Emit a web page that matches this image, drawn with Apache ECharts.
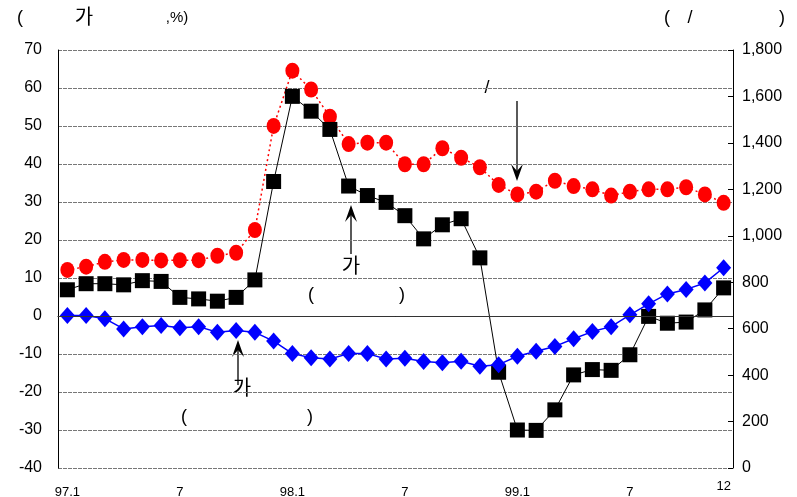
<!DOCTYPE html>
<html>
<head>
<meta charset="utf-8">
<script src="https://cdn.jsdelivr.net/npm/echarts@6/dist/echarts.min.js"></script>
<style>
  html, body { margin: 0; padding: 0; background: #fff; }
  #chart { width: 797px; height: 497px; }
</style>
</head>
<body>
<div id="chart"></div>
<script>
// Months 1997.1 – 1999.12
const months = [];
for (let y = 97; y <= 99; y++) {
  for (let m = 1; m <= 12; m++) months.push(y + '.' + m);
}
// Tick labels shown on the category axis (index -> text)
const tickLabels = { 0: '97.1', 6: '7', 12: '98.1', 18: '7', 24: '99.1', 30: '7', 35: '12' };

// Left axis series (%)
const blackSeries = [6.9, 8.5, 8.5, 8.2, 9.3, 9.1, 4.9, 4.5, 3.9, 4.9, 9.5, 35.4,
                     57.8, 53.9, 49.1, 34.2, 31.7, 29.9, 26.4, 20.3, 24.0, 25.6, 15.3, -14.8,
                     -30.0, -30.1, -24.7, -15.5, -14.1, -14.3, -10.2, -0.1, -1.9, -1.6, 1.6, 7.4];
const blueSeries = [0.1, 0.1, -0.7, -3.4, -2.8, -2.5, -3.1, -2.8, -4.3, -3.8, -4.3, -6.6,
                    -9.9, -11.0, -11.3, -9.9, -9.9, -11.3, -11.1, -12.0, -12.3, -11.9, -13.2, -12.8,
                    -10.6, -9.3, -8.0, -6.0, -4.1, -2.8, 0.3, 3.2, 5.8, 7.0, 8.7, 12.7];
// Right axis series (원/달러)
const redSeries = [853, 867, 888, 896, 896, 894, 895, 895, 914, 927, 1025, 1473,
                   1711, 1630, 1513, 1395, 1401, 1401, 1308, 1308, 1377, 1336, 1295, 1219,
                   1178, 1190, 1237, 1214, 1200, 1173, 1190, 1200, 1200, 1209, 1178, 1142];

const FONT = 'Liberation Sans, Arial, Noto Sans CJK KR, sans-serif';

const chart = echarts.init(document.getElementById('chart'));

function arrow(x, y1, y2) {
  // vertical arrow from y1 (tail) to y2 (head)
  const dir = y2 < y1 ? -1 : 1;
  return [
    { type: 'line', shape: { x1: x, y1: y1, x2: x, y2: y2 - dir * 8 },
      style: { stroke: '#000', lineWidth: 1.3 } },
    { type: 'polygon',
      shape: { points: [[x, y2], [x - 6, y2 - dir * 17], [x, y2 - dir * 10], [x + 6, y2 - dir * 17]] },
      style: { fill: '#000' } }
  ];
}

function txt(x, y, s, size) {
  return { type: 'text', x: x, y: y,
    style: { text: s, fill: '#000', font: (size || 18) + 'px ' + FONT,
             textAlign: 'center', textVerticalAlign: 'middle' } };
}

chart.setOption({
  animation: false,
  backgroundColor: '#fff',
  grid: { left: 58, right: 64, top: 50, bottom: 29, containLabel: false, outerBoundsMode: 'none' },
  xAxis: {
    type: 'category',
    data: months,
    boundaryGap: true,
    axisLine: { show: true, lineStyle: { color: '#000', width: 1 } },
    axisTick: { show: false },
    axisLabel: {
      interval: function (i) { return tickLabels[i] !== undefined; },
      formatter: function (v, i) {
        const t = tickLabels[i];
        return i === 35 ? '{up|' + t + '}' : t;
      },
      rich: { up: { fontFamily: FONT, fontSize: 13, color: '#000', lineHeight: 1 } },
      color: '#000', fontFamily: FONT, fontSize: 13, margin: 18
    },
    splitLine: { show: false }
  },
  yAxis: [
    {
      type: 'value', min: -40, max: 70, interval: 10, position: 'left',
      axisLine: { show: true, lineStyle: { color: '#000', width: 1 } },
      axisTick: { show: false },
      axisLabel: { color: '#000', fontFamily: FONT, fontSize: 16, margin: 16 },
      splitLine: { show: true, lineStyle: { color: '#777', type: [4, 1], width: 1 } }
    },
    {
      type: 'value', min: 0, max: 1800, interval: 200, position: 'right',
      axisLine: { show: true, lineStyle: { color: '#000', width: 1 } },
      axisTick: { show: true, inside: true, length: 5, lineStyle: { color: '#000' } },
      axisLabel: {
        color: '#000', fontFamily: FONT, fontSize: 16, margin: 9,
        formatter: function (v) { return v.toLocaleString('en-US'); }
      },
      splitLine: { show: false }
    }
  ],
  series: [
    {
      name: 'red', type: 'line', yAxisIndex: 1, data: redSeries,
      symbol: 'circle', symbolSize: [14, 16], showAllSymbol: true,
      itemStyle: { color: '#ff0000' },
      lineStyle: { color: '#ff0000', width: 1.5, type: [2, 3] },
      z: 2
    },
    {
      name: 'black', type: 'line', yAxisIndex: 0, data: blackSeries,
      symbol: 'rect', symbolSize: 15, showAllSymbol: true,
      itemStyle: { color: '#000' },
      lineStyle: { color: '#000', width: 1 },
      markLine: {
        silent: true, symbol: 'none', label: { show: false },
        lineStyle: { color: '#333', type: 'solid', width: 1 },
        data: [{ yAxis: 0 }]
      },
      z: 3
    },
    {
      name: 'blue', type: 'line', yAxisIndex: 0, data: blueSeries,
      symbol: 'diamond', symbolSize: [15, 17], showAllSymbol: true,
      itemStyle: { color: '#0000ff' },
      lineStyle: { color: '#0000ff', width: 1.5 },
      z: 4
    }
  ],
  graphic: [
    // axis titles
    txt(20, 18, '('), txt(84, 18, '가', 20), txt(177, 18, ',%)', 15),
    txt(667, 18, '('), txt(690, 18, '/'), txt(782, 18, ')'),
    // annotation for the black series
    ...arrow(351, 254, 205),
    txt(351, 267, '가', 20), txt(311, 295, '('), txt(402, 295, ')'),
    // annotation for the blue series
    ...arrow(238, 385, 340),
    txt(242, 389, '가', 20), txt(184, 417, '('), txt(310, 417, ')'),
    // annotation for the red series
    txt(487, 88, '/'),
    ...arrow(517, 101, 181)
  ]
});
</script>
</body>
</html>
